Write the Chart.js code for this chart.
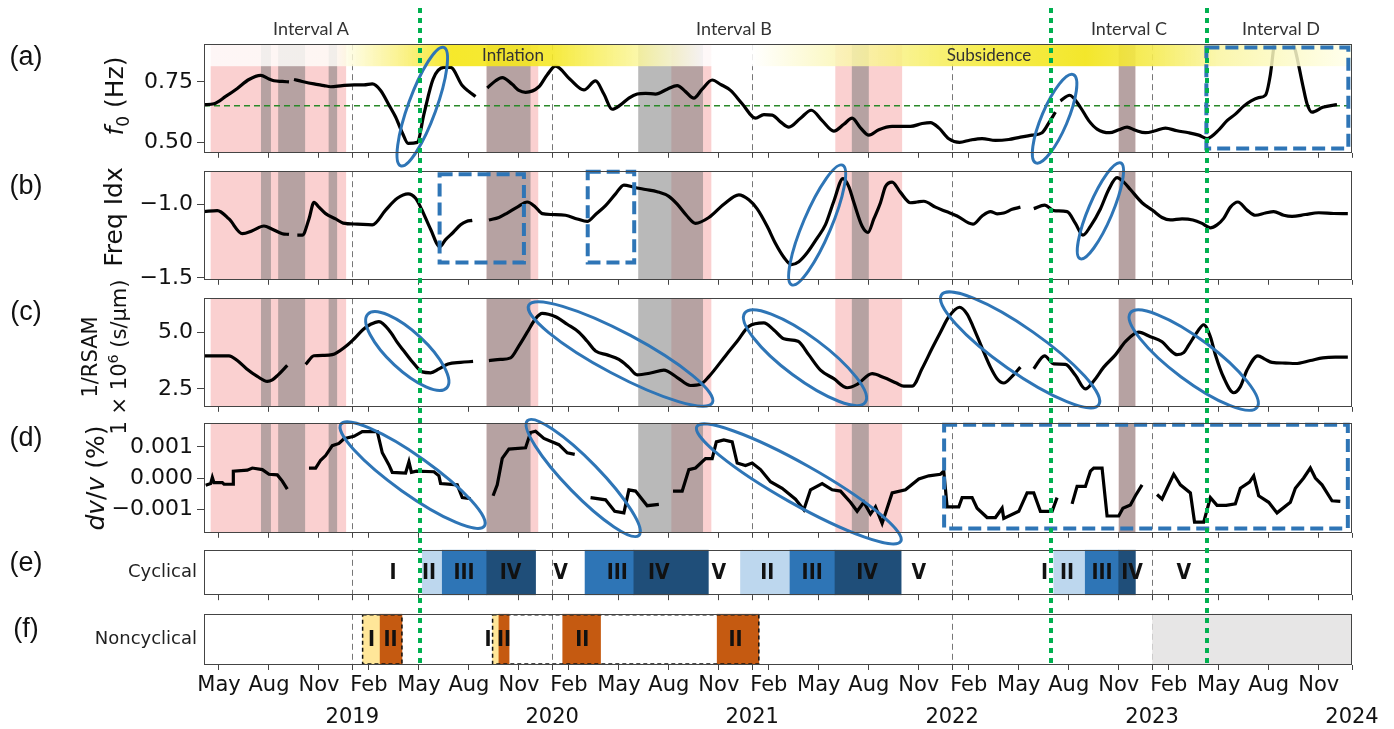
<!DOCTYPE html>
<html>
<head>
<meta charset="utf-8">
<title>Cycle phases</title>
<script src="https://cdn.jsdelivr.net/npm/chart.js@4.4.1/dist/chart.umd.min.js"></script>
<style>
  body { margin: 0; background: #fff; }
  #fig { position: relative; width: 1394px; height: 729px; overflow: hidden; background: #fff; }
  canvas { position: absolute; left: 0; }
  #overlay { top: 0; z-index: 5; pointer-events: none; }
  .t { position: absolute; transform: translate(-50%, -50%); white-space: nowrap; z-index: 6; color: #111; }
  .plab { font: 27px "Liberation Sans", Arial, sans-serif; }
  .hdr { font: 18px Lato, "Open Sans", sans-serif; color: #333; }
  .phase { font: 17px Lato, "Open Sans", sans-serif; color: #333; }
  .ytitle { font: 25px "DejaVu Sans", sans-serif; transform: translate(-50%, -50%) rotate(-90deg); text-align: center; }
  .ytitle sub { font-size: 0.68em; }
  .ytitle sup { font-size: 0.68em; }
</style>
</head>
<body>
<div id="fig">
  <canvas id="pa"></canvas>
  <canvas id="pb"></canvas>
  <canvas id="pc"></canvas>
  <canvas id="pd"></canvas>
  <canvas id="pe"></canvas>
  <canvas id="pf"></canvas>
  <canvas id="overlay" width="1394" height="729"></canvas>

  <div class="t plab" style="left:26px;top:56px">(a)</div>
  <div class="t plab" style="left:26px;top:185px">(b)</div>
  <div class="t plab" style="left:26px;top:311px">(c)</div>
  <div class="t plab" style="left:26px;top:437px">(d)</div>
  <div class="t plab" style="left:26px;top:562px">(e)</div>
  <div class="t plab" style="left:26px;top:628px">(f)</div>

  <div class="t hdr" style="left:311px;top:28px">Interval A</div>
  <div class="t hdr" style="left:734px;top:28px">Interval B</div>
  <div class="t hdr" style="left:1129px;top:28px">Interval C</div>
  <div class="t hdr" style="left:1281px;top:28px">Interval D</div>
  <div class="t phase" style="left:513px;top:54px">Inflation</div>
  <div class="t phase" style="left:989px;top:54px">Subsidence</div>

  <div class="t ytitle" style="left:116px;top:96px"><i>f</i><sub>0</sub> (Hz)</div>
  <div class="t ytitle" style="left:113px;top:217px">Freq Idx</div>
  <div class="t ytitle" style="left:105px;top:357px;font-size:21px;line-height:23px">1/RSAM<br>1 × 10<sup>6</sup> (s/μm)</div>
  <div class="t ytitle" style="left:95px;top:478px"><i>dv</i>/<i>v</i> (%)</div>
</div>

<script>
// Seismic cycle panels, Chart.js
// x axis = months since Jan 2018

const X_MIN = 3.1;
const X_MAX = 72;

const tickMonths = [4, 7, 10, 12, 13, 16, 19, 22, 24, 25, 28, 31, 34, 36, 37, 40, 43, 46, 48, 49, 52, 55, 58, 60, 61, 64, 67, 70, 72];
const tickText = ['May', 'Aug', 'Nov', ['', '2019'], 'Feb', 'May', 'Aug', 'Nov', ['', '2020'], 'Feb', 'May', 'Aug', 'Nov', ['', '2021'],
  'Feb', 'May', 'Aug', 'Nov', ['', '2022'], 'Feb', 'May', 'Aug', 'Nov', ['', '2023'], 'Feb', 'May', 'Aug', 'Nov', ['', '2024']];

const yearLines = [12, 24, 36, 48, 60];
const greenLines = [16.07, 53.95, 63.3];

// shaded periods (months)
const pinkSpans = [[3.5, 11.63], [20.06, 23.16], [31.15, 33.55], [40.99, 45.0], [58.0, 59.0]];
const greySpans = [[6.52, 7.12], [7.55, 9.17], [10.58, 11.09], [20.06, 22.7], [29.16, 33.05], [41.98, 43.0], [58.0, 59.0]];

// (a) f0, Hz
const f0Threshold = 0.652;
const f0Series = [
  [3.1, 0.656], [3.7, 0.66], [4.4, 0.69], [5.1, 0.723], [5.8, 0.76], [6.5, 0.777], [7.0, 0.762], [7.3, 0.755], [7.8, 0.752], [8.2, 0.75],
  [8.35, null],
  [8.5, 0.76], [9.0, 0.752], [9.7, 0.742], [10.3, 0.735], [10.7, 0.73], [11.4, 0.735], [12.1, 0.738], [12.7, 0.738], [13.2, 0.742],
  [13.7, 0.715], [14.2, 0.655], [14.6, 0.605], [15.0, 0.54], [15.35, 0.496], [15.9, 0.50], [16.3, 0.617], [16.85, 0.762], [17.5, 0.81],
  [17.9, 0.81], [18.6, 0.735], [19.0, 0.71], [19.4, 0.69],
  [19.8, null],
  [20.1, 0.725], [20.6, 0.755], [21.0, 0.768], [21.6, 0.74], [22.0, 0.715], [22.4, 0.707], [23.2, 0.73], [23.7, 0.78], [24.2, 0.815],
  [25.05, 0.762], [25.9, 0.717], [26.6, 0.754], [27.1, 0.70], [27.6, 0.637], [28.1, 0.655], [28.6, 0.683], [29.1, 0.70], [29.6, 0.703],
  [30.2, 0.70], [30.9, 0.72], [31.5, 0.735], [32.0, 0.71], [32.5, 0.683], [33.0, 0.72], [33.6, 0.758], [34.1, 0.74], [34.7, 0.715],
  [35.4, 0.66], [36.2, 0.60], [36.7, 0.615], [37.2, 0.613], [37.7, 0.585], [38.2, 0.563], [38.9, 0.60], [39.55, 0.633], [40.2, 0.59],
  [40.9, 0.547], [41.5, 0.575], [42.0, 0.60], [42.5, 0.56], [43.0, 0.53], [43.6, 0.552], [44.4, 0.566], [45.5, 0.566], [46.2, 0.578],
  [46.7, 0.582], [47.2, 0.56], [47.8, 0.515], [48.45, 0.50], [49.1, 0.51], [49.8, 0.516], [50.6, 0.508], [51.4, 0.512], [52.1, 0.522],
  [52.8, 0.53], [53.4, 0.54], [53.85, 0.586], [54.2, 0.625],
  [54.35, null],
  [54.5, 0.672], [55.05, 0.695], [55.7, 0.645], [56.2, 0.59], [56.7, 0.555], [57.45, 0.54], [58.0, 0.552], [58.5, 0.563], [59.0, 0.55],
  [59.6, 0.54], [60.2, 0.548], [60.8, 0.559], [61.5, 0.548], [62.2, 0.54], [62.8, 0.53], [63.3, 0.516], [64.05, 0.555], [64.5, 0.59],
  [65.0, 0.617], [65.5, 0.65], [65.95, 0.672], [66.4, 0.685], [66.8, 0.695], [67.1, 0.78], [67.3, 0.89], [67.5, 0.97], [67.9, 1.0],
  [68.3, 0.97], [68.5, 0.90], [68.6, 0.88], [69.05, 0.735], [69.3, 0.66], [69.6, 0.625], [70.25, 0.645], [71.1, 0.656]
];

// (b) frequency index
const freqIdxSeries = [
  [3.1, -1.05], [3.9, -1.043], [4.6, -1.10], [5.4, -1.20], [6.0, -1.18], [6.7, -1.148], [7.2, -1.17], [7.8, -1.20], [8.2, -1.205],
  [8.45, null],
  [8.7, -1.21], [9.0, -1.21], [9.4, -1.10], [9.7, -0.987], [10.0, -1.02], [10.4, -1.064], [11.0, -1.10], [11.45, -1.128], [12.3, -1.135],
  [13.2, -1.14], [14.0, -1.04], [14.7, -0.96], [15.35, -0.93], [15.8, -0.96], [16.15, -1.032], [16.7, -1.17], [17.25, -1.288],
  [17.6, -1.24], [18.05, -1.192], [18.5, -1.14], [18.85, -1.117], [19.2, -1.11],
  [19.7, null],
  [20.2, -1.107], [20.8, -1.09], [21.3, -1.06], [21.9, -1.02], [22.5, -0.985], [23.0, -1.02], [23.4, -1.064], [24.0, -1.07],
  [24.8, -1.075], [25.5, -1.10], [26.1, -1.117], [26.6, -1.07], [27.2, -1.01], [27.8, -0.93], [28.3, -0.87], [28.9, -0.885],
  [29.6, -0.90], [30.3, -0.915], [31.0, -0.947], [31.5, -1.00], [32.05, -1.075], [32.6, -1.13], [33.4, -1.09], [34.3, -1.00],
  [35.2, -0.936], [35.8, -0.97], [36.3, -1.032], [36.9, -1.15], [37.4, -1.267], [37.9, -1.36], [38.35, -1.41], [38.8, -1.39],
  [39.3, -1.33], [39.9, -1.23], [40.4, -1.139], [40.9, -0.98], [41.45, -0.826], [41.8, -0.88], [42.1, -0.987], [42.6, -1.15],
  [42.95, -1.192], [43.3, -1.10], [43.7, -0.99], [44.0, -0.88], [44.4, -0.85], [44.9, -0.92], [45.5, -0.99], [45.9, -0.985],
  [46.3, -0.98], [47.0, -1.02], [47.65, -1.05], [48.3, -1.08], [49.25, -1.135], [49.8, -1.08], [50.3, -1.05], [50.7, -1.065],
  [51.1, -1.06], [51.6, -1.035], [52.1, -1.02],
  [52.5, null],
  [52.9, -1.03], [53.55, -1.006], [54.1, -1.043], [54.9, -1.05], [55.4, -1.13], [55.85, -1.21], [56.3, -1.15], [56.9, -1.032],
  [57.4, -0.90], [57.9, -0.82], [58.3, -0.85], [58.7, -0.90], [59.4, -0.99], [60.05, -1.043], [60.6, -1.09], [61.1, -1.107],
  [61.8, -1.10], [62.45, -1.107], [63.0, -1.13], [63.5, -1.16], [63.9, -1.14], [64.3, -1.096], [64.7, -1.02], [65.15, -0.985],
  [65.7, -1.04], [66.2, -1.075], [66.8, -1.06], [67.3, -1.05], [67.9, -1.075], [68.4, -1.083], [69.2, -1.07], [70.0, -1.058],
  [70.9, -1.063], [71.75, -1.064]
];

// (c) 1/RSAM x 1e6
const rsamSeries = [
  [3.1, 3.96], [4.6, 3.96], [5.1, 3.75], [5.65, 3.39], [6.3, 3.05], [6.9, 2.83], [7.2, 2.90], [7.55, 3.12], [8.1, 3.54],
  [8.6, null],
  [9.2, 3.58], [9.7, 3.96], [10.3, 3.98], [10.8, 4.01], [11.6, 4.37], [12.1, 4.7], [12.65, 5.12], [13.1, 5.35], [13.6, 5.47],
  [14.3, 5.0], [14.7, 4.55], [15.1, 4.17], [15.6, 3.7], [16.2, 3.25], [16.7, 3.21], [17.2, 3.38], [17.75, 3.6], [18.5, 3.67],
  [19.25, 3.71],
  [19.7, null],
  [20.2, 3.75], [20.9, 3.8], [21.5, 3.87], [22.0, 4.4], [22.5, 5.0], [23.0, 5.6], [23.4, 5.83], [24.2, 5.68], [24.9, 5.35],
  [25.6, 5.0], [26.1, 4.6], [26.6, 4.17], [27.3, 4.0], [28.0, 3.8], [28.6, 3.45], [29.1, 3.12], [29.9, 3.2], [30.7, 3.33],
  [31.5, 3.0], [32.3, 2.65], [32.9, 2.7], [33.4, 3.04], [34.45, 4.01], [35.1, 4.6], [35.8, 5.26], [36.7, 5.41], [37.3, 5.1],
  [37.9, 4.71], [38.75, 4.6], [39.4, 4.0], [40.1, 3.33], [40.9, 2.95], [41.7, 2.55], [42.3, 2.7], [43.2, 3.17], [43.9, 3.0],
  [44.65, 2.76], [45.1, 2.62], [45.6, 2.62], [46.2, 3.4], [46.8, 4.29], [47.3, 5.0], [47.8, 5.68], [48.45, 6.1], [48.9, 5.8],
  [49.25, 5.26], [49.8, 4.3], [50.3, 3.46], [50.7, 2.95], [51.1, 2.76], [51.6, 3.05], [52.1, 3.46],
  [52.5, null],
  [52.9, 3.39], [53.55, 3.96], [54.1, 3.6], [54.8, 3.58], [55.4, 3.1], [56.0, 2.5], [56.5, 2.85], [57.1, 3.46], [57.8, 4.0],
  [58.4, 4.58], [59.2, 5.0], [59.9, 4.8], [60.6, 4.58], [61.1, 4.2], [61.5, 4.01], [61.9, 4.1], [62.2, 4.43], [62.7, 5.0],
  [63.1, 5.33], [63.5, 4.8], [63.8, 4.01], [64.3, 3.0], [64.9, 2.33], [65.3, 2.6], [65.7, 3.33], [66.35, 3.96], [66.8, 3.8],
  [67.2, 3.67], [68.0, 3.64], [68.6, 3.62], [69.5, 3.75], [70.25, 3.87], [71.0, 3.9], [71.75, 3.9]
];

// (d) dv/v, %
const dvvSeries = [
  [3.2, -0.00023], [3.5, -0.00018], [3.6, 0.00002], [3.7, -0.00015], [4.2, -0.00015], [4.3, -0.0002], [4.85, -0.0002], [4.86, 0.00022],
  [5.7, 0.00025], [6.0, 0.00032], [6.6, 0.00027], [7.0, 0.00012], [7.5, 0.0001], [7.8, -0.0001], [8.1, -0.00036],
  [8.7, null],
  [9.4, 0.00032], [9.8, 0.00032], [10.1, 0.00057], [10.4, 0.00072], [10.8, 0.00104], [11.2, 0.00111], [11.5, 0.00126], [12.1, 0.00134],
  [12.6, 0.00149], [13.5, 0.00149], [13.8, 0.00081], [14.2, 0.00042], [14.4, 0.00018], [15.2, 0.00016], [15.4, 0.00052],
  [15.55, 0.00018], [15.85, 0.00022], [16.9, 0.0002], [17.2, 0.00007], [17.3, -0.00018], [18.3, -0.00022], [18.6, -0.00063],
  [19.1, -0.00066],
  [19.8, null],
  [20.45, -0.00057], [20.7, -0.00022], [21.0, 0.00063], [21.4, 0.00093], [22.4, 0.00097], [22.7, 0.00146], [23.0, 0.0015],
  [23.5, 0.00127], [24.4, 0.00107], [24.9, 0.00081], [25.35, 0.00076],
  [25.8, null],
  [26.3, -0.00063], [27.2, -0.0007], [27.75, -0.00107], [28.3, -0.00112], [28.6, -0.00038], [29.0, -0.00042], [29.7, -0.00089],
  [30.4, -0.00085],
  [30.8, null],
  [31.25, -0.00042], [31.8, -0.00042], [32.2, 0.00027], [32.6, 0.00032], [33.2, 0.00062], [33.6, 0.00062], [33.85, 0.00116],
  [34.3, 0.00122], [34.8, 0.00116], [35.1, 0.00048], [35.6, 0.0004], [36.0, 0.00048], [36.5, 0.00027], [37.1, -0.00012],
  [37.8, -0.00033], [38.6, -0.00068], [39.1, -0.00102], [39.5, -0.00038], [40.2, -0.00018], [40.8, -0.00038], [41.3, -0.00042],
  [41.9, -0.00078], [42.3, -0.00107], [42.7, -0.00078], [43.1, -0.00116], [43.4, -0.00093], [43.8, -0.00146], [44.4, -0.00048],
  [45.2, -0.00038], [46.0, -0.00003], [46.6, 0.00007], [47.3, 0.00012], [47.5, 0.00022], [47.7, -0.00093], [48.4, -0.00093],
  [48.6, -0.00063], [49.2, -0.00063], [49.5, -0.00097], [50.1, -0.00127], [50.6, -0.00127], [51.0, -0.00097], [51.1, -0.0013],
  [52.0, -0.00107], [52.5, -0.00048], [52.9, -0.00048], [53.3, -0.00107], [54.0, -0.00107], [54.3, -0.00063],
  [54.7, null],
  [55.2, -0.00083], [55.5, -0.00027], [56.0, -0.00027], [56.3, 0.00022], [56.5, 0.00032], [57.0, 0.00032], [57.3, -0.00122],
  [58.0, -0.00122], [58.25, -0.00097], [58.7, -0.00087], [59.0, -0.00057], [59.4, -0.00022],
  [59.8, null],
  [60.3, -0.00053], [60.6, -0.00068], [60.9, -0.00033], [61.3, 0.00012], [61.7, -0.00022], [62.3, -0.00048], [62.55, -0.00142],
  [63.1, -0.00142], [63.5, -0.00063], [63.9, -0.00088], [64.45, -0.00088], [65.0, -0.00083], [65.3, -0.00033], [65.85, -0.00013],
  [66.1, 0.00007], [66.4, -0.00057], [67.0, -0.00078], [67.5, -0.00112], [68.3, -0.00078], [68.6, -0.00033], [69.1, 0.0],
  [69.5, 0.00032], [69.8, 0.0], [70.2, -0.00022], [70.8, -0.00073], [71.3, -0.00075]
];

// (e) cyclical phases
const cycStart = [16.2, 17.4, 20.07, 25.97, 28.9, 35.3, 38.27, 40.97, 54.1, 55.99, 58.0];
const cycEnd = [17.4, 20.07, 23.0, 28.9, 33.37, 38.27, 40.97, 44.94, 55.99, 58.0, 59.0];
const cycPhase = ['II', 'III', 'IV', 'III', 'IV', 'II', 'III', 'IV', 'II', 'III', 'IV'];
const cycTextMonth = [14.45, 16.6, 18.7, 21.5, 24.5, 27.9, 30.4, 34.0, 36.9, 39.6, 42.9, 46.0, 53.55, 54.9, 57.0, 58.8, 61.9];
const cycText = ['I', 'II', 'III', 'IV', 'V', 'III', 'IV', 'V', 'II', 'III', 'IV', 'V', 'I', 'II', 'III', 'IV', 'V'];

// (f) noncyclical phases
const nonStart = [12.62, 13.67, 20.42, 20.8, 24.63, 33.9, 60.03];
const nonEnd = [13.67, 14.98, 20.8, 21.41, 26.9, 36.4, 72.0];
const nonPhase = ['I', 'II', 'I', 'II', 'II', 'II', 'none'];
const nonTextMonth = [13.15, 14.3, 20.15, 21.1, 25.8, 35.0];
const nonText = ['I', 'II', 'I', 'II', 'II', 'II'];
const nonBoxes = [[12.62, 14.98], [20.42, 36.4]];

// ---- styles
const FONT = '"DejaVu Sans", "Liberation Sans", sans-serif';
const BLUE = '#2e75b6';
const cycColor = { II: '#bdd7ee', III: '#2e75b6', IV: '#1f4e79' };
const nonColor = { I: '#ffe699', II: '#c55a11', none: '#e7e6e6' };
const barStops = [
  [3.1, 'rgba(255,255,255,0.82)'], [11.0, 'rgba(255,255,250,0.82)'], [15.0, 'rgba(250,240,120,0.85)'], [18.0, 'rgba(245,230,20,0.9)'],
  [24.0, 'rgba(245,232,40,0.9)'], [29.0, 'rgba(250,245,150,0.85)'], [33.0, 'rgba(255,255,255,0.85)'], [36.0, 'rgba(255,255,255,0.85)'],
  [42.0, 'rgba(250,245,170,0.85)'], [50.0, 'rgba(245,235,60,0.9)'], [56.0, 'rgba(242,228,20,0.9)'], [60.0, 'rgba(245,235,80,0.9)'],
  [64.0, 'rgba(250,245,160,0.85)'], [72.0, 'rgba(255,255,235,0.85)']
];

const PAD_T = 16, PAD_B = 12, AX_LEFT = 204, FIG_W = 1394;

// annotations: ellipses (centre in data units, radii px, angle deg) and dashed boxes
const annA = {
  ellipses: [{ m: 16.2, v: 0.648, rx: 63, ry: 14, rot: -70 }, { m: 54.15, v: 0.598, rx: 48, ry: 13, rot: -67 }],
  rects: [{ m0: 63.26, m1: 71.78, v0: 0.475, v1: 0.892 }]
};
const annB = {
  ellipses: [{ m: 39.9, v: -1.141, rx: 65, ry: 14, rot: -67 }, { m: 56.9, v: -1.045, rx: 52, ry: 12, rot: -67 }],
  rects: [{ m0: 17.24, m1: 22.3, v0: -1.396, v1: -0.797 }, { m0: 26.13, m1: 28.92, v0: -1.396, v1: -0.78 }]
};
const annC = {
  ellipses: [
    { m: 15.3, v: 4.17, rx: 54, ry: 19, rot: 43 }, { m: 28.1, v: 4.04, rx: 104, ry: 21, rot: 28 },
    { m: 39.17, v: 3.875, rx: 75, ry: 21, rot: 36.6 }, { m: 52.08, v: 4.22, rx: 96, ry: 22, rot: 35 },
    { m: 62.5, v: 3.77, rx: 79, ry: 21, rot: 36.7 }
  ],
  rects: []
};
const annD = {
  ellipses: [
    { m: 15.62, v: 0.00009, rx: 88, ry: 19, rot: 35.4 }, { m: 25.86, v: 0.0, rx: 80, ry: 17, rot: 45.8 },
    { m: 38.8, v: -0.00019, rx: 117, ry: 20, rot: 29.4 }
  ],
  rects: [{ m0: 47.52, m1: 71.75, v0: -0.00162, v1: 0.00171 }]
};

function deco(cfg) {
  return {
    id: 'deco',
    beforeDatasetsDraw(chart) {
      const { ctx, chartArea: ca } = chart;
      const x = chart.scales.x;
      ctx.save();
      ctx.beginPath();
      ctx.rect(ca.left, ca.top, ca.width, ca.height);
      ctx.clip();
      if (cfg.shade) {
        ctx.fillStyle = 'rgba(244,150,150,0.45)';
        pinkSpans.forEach(s => {
          const a = x.getPixelForValue(s[0]), b = x.getPixelForValue(s[1]);
          ctx.fillRect(a, ca.top, b - a, ca.height);
        });
        ctx.fillStyle = 'rgba(120,120,120,0.52)';
        greySpans.forEach(s => {
          const a = x.getPixelForValue(s[0]), b = x.getPixelForValue(s[1]);
          ctx.fillRect(a, ca.top, b - a, ca.height);
        });
      }
      ctx.strokeStyle = '#777';
      ctx.lineWidth = 1;
      ctx.setLineDash([6, 4]);
      yearLines.forEach(m => {
        const px = Math.round(x.getPixelForValue(m)) + 0.5;
        ctx.beginPath();
        ctx.moveTo(px, ca.top);
        ctx.lineTo(px, ca.bottom);
        ctx.stroke();
      });
      ctx.restore();
    },
    afterDatasetsDraw(chart) {
      const { ctx, chartArea: ca } = chart;
      const x = chart.scales.x, y = chart.scales.y;
      ctx.save();
      if (cfg.bar) {
        //--phase bar over the top of panel (a)
        const g = ctx.createLinearGradient(x.getPixelForValue(X_MIN), 0, x.getPixelForValue(X_MAX), 0);
        barStops.forEach(s => g.addColorStop((s[0] - X_MIN) / (X_MAX - X_MIN), s[1]));
        ctx.fillStyle = g;
        ctx.fillRect(ca.left, ca.top, ca.width, 22);
      }
      if (cfg.labels) {
        ctx.fillStyle = '#111';
        ctx.font = 'bold 21px "DejaVu Sans Condensed", "DejaVu Sans", sans-serif';
        ctx.textAlign = 'center';
        ctx.textBaseline = 'middle';
        const cy = (ca.top + ca.bottom) / 2 + 1;
        cfg.labels.months.forEach((m, i) => ctx.fillText(cfg.labels.text[i], x.getPixelForValue(m), cy));
      }
      if (cfg.boxes) {
        ctx.strokeStyle = '#111';
        ctx.lineWidth = 1.5;
        ctx.setLineDash([4, 3]);
        cfg.boxes.forEach(b => {
          const a = x.getPixelForValue(b[0]), c = x.getPixelForValue(b[1]);
          ctx.strokeRect(a, ca.top + 1, c - a, ca.height - 2);
        });
        ctx.setLineDash([]);
      }
      if (cfg.ann) {
        ctx.strokeStyle = BLUE;
        ctx.lineWidth = 4;
        ctx.setLineDash([13, 6]);
        cfg.ann.rects.forEach(r => {
          const a = x.getPixelForValue(r.m0), b = x.getPixelForValue(r.m1);
          const t = y.getPixelForValue(r.v1), u = y.getPixelForValue(r.v0);
          ctx.strokeRect(a, t, b - a, u - t);
        });
        ctx.setLineDash([]);
        ctx.lineWidth = 3;
        cfg.ann.ellipses.forEach(e => {
          ctx.beginPath();
          ctx.ellipse(x.getPixelForValue(e.m), y.getPixelForValue(e.v), e.rx, e.ry, e.rot * Math.PI / 180, 0, 2 * Math.PI);
          ctx.stroke();
        });
      }
      //--frame
      ctx.strokeStyle = '#444';
      ctx.lineWidth = 1;
      ctx.strokeRect(Math.round(ca.left) + 0.5, Math.round(ca.top) + 0.5, Math.round(ca.width) - 1, Math.round(ca.height) - 1);
      ctx.restore();
    }
  };
}

function xScale(showLabels, bottomH) {
  return {
    type: 'linear', min: X_MIN, max: X_MAX,
    afterBuildTicks: s => { s.ticks = tickMonths.map(v => ({ value: v })); },
    afterFit: s => { s.height = bottomH; },
    ticks: {
      display: showLabels, autoSkip: false, maxRotation: 0, minRotation: 0, padding: 0, color: '#111',
      font: { family: FONT, size: 21, lineHeight: 1.52 },
      callback: (v, i) => tickText[i]
    },
    grid: { display: true, drawOnChartArea: false, drawTicks: true, tickLength: 5, tickColor: '#444', tickWidth: 1 },
    border: { display: false }
  };
}

function yLinear(min, max, ticks, text) {
  return {
    type: 'linear', min: min, max: max,
    afterBuildTicks: s => { s.ticks = ticks.map(v => ({ value: v })); },
    afterFit: s => { s.width = AX_LEFT; },
    ticks: { color: '#111', padding: 4, font: { family: FONT, size: 22 }, callback: (v, i) => text[i] },
    grid: { display: true, drawOnChartArea: false, drawTicks: true, tickLength: 7, tickColor: '#444' },
    border: { display: false }
  };
}

function yCategory() {
  return {
    type: 'category',
    afterFit: s => { s.width = AX_LEFT; },
    ticks: { color: '#222', padding: 7, font: { family: FONT, size: 18 } },
    grid: { display: true, drawOnChartArea: false, drawTicks: false },
    border: { display: false }
  };
}

function prepCanvas(id, top, bottom, bottomH) {
  const cv = document.getElementById(id);
  cv.width = FIG_W;
  cv.height = PAD_T + (bottom - top) + bottomH;
  cv.style.top = (top - PAD_T) + 'px';
  return cv;
}

function lineSet(pairs, smooth) {
  return {
    data: pairs.map(p => ({ x: p[0], y: p[1] })),
    borderColor: '#000', borderWidth: 3.2, pointRadius: 0, spanGaps: false,
    cubicInterpolationMode: smooth ? 'monotone' : 'default', tension: 0, order: 1
  };
}

const baseOptions = {
  animation: false, responsive: false, maintainAspectRatio: false, events: [],
  plugins: { legend: { display: false }, tooltip: { enabled: false } },
  layout: { padding: { top: PAD_T, right: FIG_W - 1352, left: 0, bottom: 0 } }
};

function linePanel(id, top, bottom, datasets, yScale, cfg) {
  const cv = prepCanvas(id, top, bottom, PAD_B);
  return new Chart(cv, {
    type: 'line',
    data: { datasets: datasets },
    options: Object.assign({}, baseOptions, { scales: { x: xScale(false, PAD_B), y: yScale } }),
    plugins: [deco(cfg)]
  });
}

function phasePanel(id, top, bottom, rowLabel, starts, ends, phases, colors, showX, cfg) {
  const bottomH = showX ? 729 - bottom : PAD_B;
  const cv = prepCanvas(id, top, bottom, bottomH);
  return new Chart(cv, {
    type: 'bar',
    data: {
      labels: [rowLabel],
      datasets: [{
        data: starts.map((s, i) => ({ x: [s, ends[i]], y: rowLabel })),
        backgroundColor: phases.map(p => colors[p]),
        borderWidth: 0, barPercentage: 1, categoryPercentage: 1
      }]
    },
    options: Object.assign({}, baseOptions, { indexAxis: 'y', scales: { x: xScale(showX, bottomH), y: yCategory() } }),
    plugins: [deco(cfg)]
  });
}

const charts = [];

charts.push(linePanel('pa', 43, 158, [
  { data: [{ x: X_MIN, y: f0Threshold }, { x: X_MAX, y: f0Threshold }], borderColor: '#2a8a2a', borderWidth: 1.5, borderDash: [6, 4], pointRadius: 0, order: 2 },
  lineSet(f0Series, true)
], yLinear(0.457, 0.906, [0.5, 0.75], ['0.50', '0.75']), { shade: true, bar: true, ann: annA }));

charts.push(linePanel('pb', 170, 285, [lineSet(freqIdxSeries, true)],
  yLinear(-1.513, -0.776, [-1.5, -1.0], ['\u22121.5', '\u22121.0']), { shade: true, ann: annB }));

charts.push(linePanel('pc', 297, 412, [lineSet(rsamSeries, true)],
  yLinear(1.71, 6.5, [2.5, 5.0], ['2.5', '5.0']), { shade: true, ann: annC }));

charts.push(linePanel('pd', 422, 538, [lineSet(dvvSeries, false)],
  yLinear(-0.00176, 0.00176, [-0.001, 0, 0.001], ['\u22120.001', '0.000', '0.001']), { shade: true, ann: annD }));

charts.push(phasePanel('pe', 548, 601, 'Cyclical', cycStart, cycEnd, cycPhase, cycColor, false,
  { labels: { months: cycTextMonth, text: cycText } }));

charts.push(phasePanel('pf', 612, 665, 'Noncyclical', nonStart, nonEnd, nonPhase, nonColor, true,
  { labels: { months: nonTextMonth, text: nonText }, boxes: nonBoxes }));

//--green dotted markers across all panels
const ov = document.getElementById('overlay').getContext('2d');
const xs = charts[0].scales.x;
ov.strokeStyle = '#00b050';
ov.lineWidth = 4;
ov.setLineDash([5, 5]);
greenLines.forEach(m => {
  const px = Math.round(xs.getPixelForValue(m));
  ov.beginPath();
  ov.moveTo(px, 8);
  ov.lineTo(px, 668);
  ov.stroke();
});
</script>
</body>
</html>
